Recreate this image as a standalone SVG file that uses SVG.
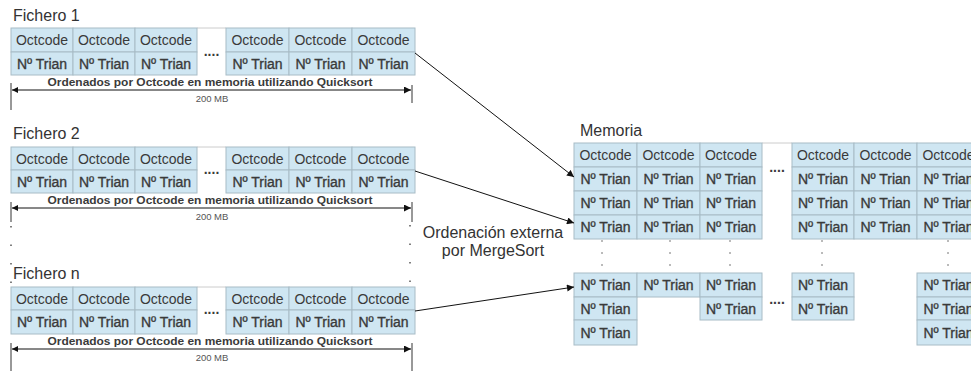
<svg xmlns="http://www.w3.org/2000/svg" width="971" height="371" viewBox="0 0 971 371">
<style>
.c{fill:#cfe6f2;stroke:#a8bcc6;stroke-width:1}
.o{font-family:"Liberation Sans",Arial,sans-serif;font-size:14px;fill:#3a3a3a;text-anchor:middle}
.n{font-family:"Liberation Sans",Arial,sans-serif;font-size:14px;fill:#3a3a3a;stroke:#3a3a3a;stroke-width:0.35;text-anchor:middle}
.d{font-family:"Liberation Sans",Arial,sans-serif;font-size:14px;font-weight:bold;fill:#3a3a3a;text-anchor:middle}
.t{font-family:"Liberation Sans",Arial,sans-serif;font-size:16px;fill:#333}
.s{font-family:"Liberation Sans",Arial,sans-serif;font-size:11px;font-weight:bold;fill:#3a3a3a;text-anchor:middle}
.m{font-family:"Liberation Sans",Arial,sans-serif;font-size:9.5px;fill:#555;text-anchor:middle}
.ln{stroke:#111;stroke-width:1;fill:none}
.tk{stroke:#333;stroke-width:1}
.dt{stroke:#555;stroke-width:1.5;stroke-dasharray:1.5 17}
.dl{stroke:#777;stroke-width:1;stroke-dasharray:2 10}
.gp{fill:#fff;stroke:#ccc;stroke-width:1}
</style>
<defs>
<marker id="ah" viewBox="0 0 10 10" refX="10" refY="5" markerWidth="9" markerHeight="7" orient="auto" markerUnits="userSpaceOnUse"><path d="M0,0L10,5L0,10z" fill="#111"/></marker>
<marker id="ahs" viewBox="0 0 10 10" refX="0" refY="5" markerWidth="9" markerHeight="6" orient="auto" markerUnits="userSpaceOnUse"><path d="M10,0L0,5L10,10z" fill="#111"/></marker>
</defs>
<rect width="971" height="371" fill="#fff"/>

<g id="fichero1">
<text class="t" x="13" y="21">Fichero 1</text>
<line class="gp" x1="197" y1="28" x2="226" y2="28"/>
<rect class="c" x="11" y="28" width="62" height="24"/><rect class="c" x="73" y="28" width="62" height="24"/><rect class="c" x="135" y="28" width="62" height="24"/>
<rect class="c" x="226" y="28" width="63" height="24"/><rect class="c" x="289" y="28" width="63" height="24"/><rect class="c" x="352" y="28" width="63" height="24"/>
<rect class="c" x="11" y="52" width="62" height="23"/><rect class="c" x="73" y="52" width="62" height="23"/><rect class="c" x="135" y="52" width="62" height="23"/>
<rect class="c" x="226" y="52" width="63" height="23"/><rect class="c" x="289" y="52" width="63" height="23"/><rect class="c" x="352" y="52" width="63" height="23"/>
<text class="o" x="42" y="45">Octcode</text><text class="o" x="104" y="45">Octcode</text><text class="o" x="166" y="45">Octcode</text>
<text class="o" x="257.5" y="45">Octcode</text><text class="o" x="320.5" y="45">Octcode</text><text class="o" x="383.5" y="45">Octcode</text>
<text class="n" x="42" y="68.5">Nº Trian</text><text class="n" x="104" y="68.5">Nº Trian</text><text class="n" x="166" y="68.5">Nº Trian</text>
<text class="n" x="257.5" y="68.5">Nº Trian</text><text class="n" x="320.5" y="68.5">Nº Trian</text><text class="n" x="383.5" y="68.5">Nº Trian</text>
<text class="d" x="211.5" y="56">....</text>
<text class="s" x="210" y="86" textLength="325" lengthAdjust="spacingAndGlyphs">Ordenados por Octcode en memoria utilizando Quicksort</text>
<line class="ln" x1="12" y1="90" x2="411" y2="90" marker-start="url(#ahs)" marker-end="url(#ah)"/>
<line class="tk" x1="11" y1="83" x2="11" y2="110"/><line class="tk" x1="412" y1="85" x2="412" y2="103"/>
<text class="m" x="212" y="102">200 MB</text>
</g>

<g id="fichero2">
<text class="t" x="13" y="139">Fichero 2</text>
<line class="gp" x1="197" y1="147" x2="226" y2="147"/>
<rect class="c" x="11" y="147" width="62" height="23"/><rect class="c" x="73" y="147" width="62" height="23"/><rect class="c" x="135" y="147" width="62" height="23"/>
<rect class="c" x="226" y="147" width="63" height="23"/><rect class="c" x="289" y="147" width="63" height="23"/><rect class="c" x="352" y="147" width="63" height="23"/>
<rect class="c" x="11" y="170" width="62" height="23"/><rect class="c" x="73" y="170" width="62" height="23"/><rect class="c" x="135" y="170" width="62" height="23"/>
<rect class="c" x="226" y="170" width="63" height="23"/><rect class="c" x="289" y="170" width="63" height="23"/><rect class="c" x="352" y="170" width="63" height="23"/>
<text class="o" x="42" y="163.5">Octcode</text><text class="o" x="104" y="163.5">Octcode</text><text class="o" x="166" y="163.5">Octcode</text>
<text class="o" x="257.5" y="163.5">Octcode</text><text class="o" x="320.5" y="163.5">Octcode</text><text class="o" x="383.5" y="163.5">Octcode</text>
<text class="n" x="42" y="186.5">Nº Trian</text><text class="n" x="104" y="186.5">Nº Trian</text><text class="n" x="166" y="186.5">Nº Trian</text>
<text class="n" x="257.5" y="186.5">Nº Trian</text><text class="n" x="320.5" y="186.5">Nº Trian</text><text class="n" x="383.5" y="186.5">Nº Trian</text>
<text class="d" x="211.5" y="174">....</text>
<text class="s" x="210" y="204" textLength="325" lengthAdjust="spacingAndGlyphs">Ordenados por Octcode en memoria utilizando Quicksort</text>
<line class="ln" x1="12" y1="208" x2="411" y2="208" marker-start="url(#ahs)" marker-end="url(#ah)"/>
<line class="tk" x1="11" y1="202" x2="11" y2="222"/><line class="tk" x1="412" y1="202" x2="412" y2="222"/>
<text class="m" x="212" y="220">200 MB</text>
</g>

<g id="separadores">
<line class="dt" x1="11" y1="226" x2="11" y2="290"/>
<line class="dt" x1="410" y1="225" x2="410" y2="290"/>
</g>

<g id="ficheron">
<text class="t" x="13" y="279">Fichero n</text>
<line class="gp" x1="197" y1="287" x2="226" y2="287"/>
<rect class="c" x="11" y="287" width="62" height="23"/><rect class="c" x="73" y="287" width="62" height="23"/><rect class="c" x="135" y="287" width="62" height="23"/>
<rect class="c" x="226" y="287" width="63" height="23"/><rect class="c" x="289" y="287" width="63" height="23"/><rect class="c" x="352" y="287" width="63" height="23"/>
<rect class="c" x="11" y="310" width="62" height="24"/><rect class="c" x="73" y="310" width="62" height="24"/><rect class="c" x="135" y="310" width="62" height="24"/>
<rect class="c" x="226" y="310" width="63" height="24"/><rect class="c" x="289" y="310" width="63" height="24"/><rect class="c" x="352" y="310" width="63" height="24"/>
<text class="o" x="42" y="303.5">Octcode</text><text class="o" x="104" y="303.5">Octcode</text><text class="o" x="166" y="303.5">Octcode</text>
<text class="o" x="257.5" y="303.5">Octcode</text><text class="o" x="320.5" y="303.5">Octcode</text><text class="o" x="383.5" y="303.5">Octcode</text>
<text class="n" x="42" y="327">Nº Trian</text><text class="n" x="104" y="327">Nº Trian</text><text class="n" x="166" y="327">Nº Trian</text>
<text class="n" x="257.5" y="327">Nº Trian</text><text class="n" x="320.5" y="327">Nº Trian</text><text class="n" x="383.5" y="327">Nº Trian</text>
<text class="d" x="211.5" y="314">....</text>
<text class="s" x="210" y="345" textLength="325" lengthAdjust="spacingAndGlyphs">Ordenados por Octcode en memoria utilizando Quicksort</text>
<line class="ln" x1="12" y1="349" x2="411" y2="349" marker-start="url(#ahs)" marker-end="url(#ah)"/>
<line class="tk" x1="11" y1="343" x2="11" y2="371"/><line class="tk" x1="412" y1="343" x2="412" y2="371"/>
<text class="m" x="212" y="361">200 MB</text>
</g>

<g id="etiqueta">
<text class="t" x="493" y="238" text-anchor="middle">Ordenación externa</text>
<text class="t" x="493" y="256" text-anchor="middle">por MergeSort</text>
</g>

<g id="memoria">
<text class="t" x="580" y="136">Memoria</text>
<line class="gp" x1="762" y1="143" x2="792" y2="143"/>
<rect class="c" x="574" y="143" width="63" height="24"/><rect class="c" x="637" y="143" width="63" height="24"/><rect class="c" x="700" y="143" width="62" height="24"/>
<rect class="c" x="792" y="143" width="62" height="24"/><rect class="c" x="854" y="143" width="63" height="24"/><rect class="c" x="917" y="143" width="63" height="24"/>
<rect class="c" x="574" y="167" width="63" height="24"/><rect class="c" x="637" y="167" width="63" height="24"/><rect class="c" x="700" y="167" width="62" height="24"/>
<rect class="c" x="792" y="167" width="62" height="24"/><rect class="c" x="854" y="167" width="63" height="24"/><rect class="c" x="917" y="167" width="63" height="24"/>
<rect class="c" x="574" y="191" width="63" height="24"/><rect class="c" x="637" y="191" width="63" height="24"/><rect class="c" x="700" y="191" width="62" height="24"/>
<rect class="c" x="792" y="191" width="62" height="24"/><rect class="c" x="854" y="191" width="63" height="24"/><rect class="c" x="917" y="191" width="63" height="24"/>
<rect class="c" x="574" y="215" width="63" height="24"/><rect class="c" x="637" y="215" width="63" height="24"/><rect class="c" x="700" y="215" width="62" height="24"/>
<rect class="c" x="792" y="215" width="62" height="24"/><rect class="c" x="854" y="215" width="63" height="24"/><rect class="c" x="917" y="215" width="63" height="24"/>
<text class="o" x="605.5" y="160">Octcode</text><text class="o" x="668.5" y="160">Octcode</text><text class="o" x="731" y="160">Octcode</text>
<text class="o" x="823" y="160">Octcode</text><text class="o" x="885.5" y="160">Octcode</text><text class="o" x="948.5" y="160">Octcode</text>
<text class="n" x="605.5" y="184">Nº Trian</text><text class="n" x="668.5" y="184">Nº Trian</text><text class="n" x="731" y="184">Nº Trian</text>
<text class="n" x="823" y="184">Nº Trian</text><text class="n" x="885.5" y="184">Nº Trian</text><text class="n" x="948.5" y="184">Nº Trian</text>
<text class="n" x="605.5" y="208">Nº Trian</text><text class="n" x="668.5" y="208">Nº Trian</text><text class="n" x="731" y="208">Nº Trian</text>
<text class="n" x="823" y="208">Nº Trian</text><text class="n" x="885.5" y="208">Nº Trian</text><text class="n" x="948.5" y="208">Nº Trian</text>
<text class="n" x="605.5" y="232">Nº Trian</text><text class="n" x="668.5" y="232">Nº Trian</text><text class="n" x="731" y="232">Nº Trian</text>
<text class="n" x="823" y="232">Nº Trian</text><text class="n" x="885.5" y="232">Nº Trian</text><text class="n" x="948.5" y="232">Nº Trian</text>
<text class="d" x="777" y="172">....</text>
<line class="dl" x1="602" y1="240" x2="602" y2="273"/><line class="dl" x1="670" y1="240" x2="670" y2="273"/><line class="dl" x1="730" y1="240" x2="730" y2="273"/>
<line class="dl" x1="822" y1="240" x2="822" y2="273"/><line class="dl" x1="948" y1="240" x2="948" y2="273"/>
<rect class="c" x="574" y="273" width="63" height="24"/><rect class="c" x="637" y="273" width="63" height="24"/><rect class="c" x="700" y="273" width="62" height="24"/>
<rect class="c" x="792" y="273" width="62" height="24"/><rect class="c" x="917" y="273" width="63" height="24"/>
<rect class="c" x="574" y="297" width="63" height="23"/><rect class="c" x="700" y="297" width="62" height="23"/>
<rect class="c" x="792" y="297" width="62" height="23"/><rect class="c" x="917" y="297" width="63" height="23"/>
<rect class="c" x="574" y="320" width="63" height="25"/><rect class="c" x="917" y="320" width="63" height="25"/>
<text class="n" x="605.5" y="290">Nº Trian</text><text class="n" x="668.5" y="290">Nº Trian</text><text class="n" x="731" y="290">Nº Trian</text>
<text class="n" x="823" y="290">Nº Trian</text><text class="n" x="948.5" y="290">Nº Trian</text>
<text class="n" x="605.5" y="313.5">Nº Trian</text><text class="n" x="731" y="313.5">Nº Trian</text>
<text class="n" x="823" y="313.5">Nº Trian</text><text class="n" x="948.5" y="313.5">Nº Trian</text>
<text class="n" x="605.5" y="337.5">Nº Trian</text><text class="n" x="948.5" y="337.5">Nº Trian</text>
<text class="d" x="777" y="304">....</text>
</g>

<g id="conectores">
<line class="ln" x1="415" y1="53" x2="574" y2="177" marker-end="url(#ah)"/>
<line class="ln" x1="415" y1="171" x2="574" y2="223" marker-end="url(#ah)"/>
<line class="ln" x1="415" y1="311" x2="574" y2="287" marker-end="url(#ah)"/>
</g>
</svg>
